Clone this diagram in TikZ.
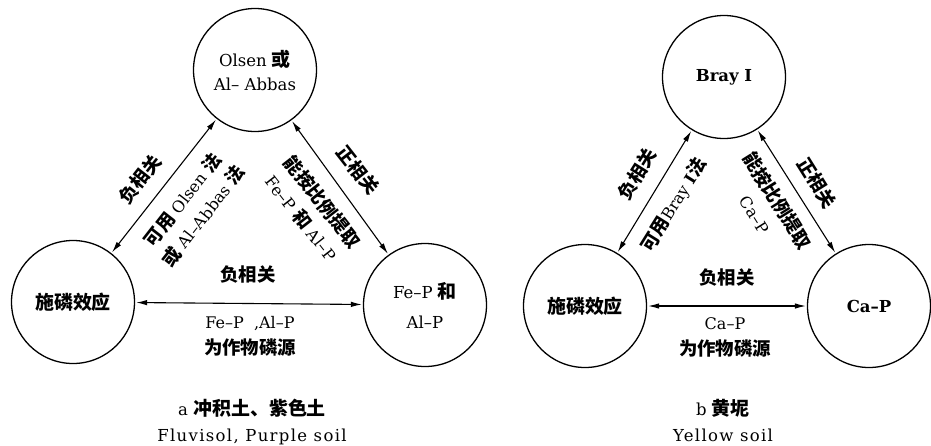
\documentclass[tikz,border=0pt]{standalone}
\usepackage{fontspec}
\setmainfont{DejaVu Serif}
\newfontfamily\cjk{Noto Sans CJK SC}[Scale=1.15]
\newfontfamily\wideserif{DejaVu Serif}[LetterSpace=8]
\usetikzlibrary{arrows.meta,shapes.geometric}
\newcommand\zh[1]{{\cjk\bfseries #1}}
\begin{document}
\begin{tikzpicture}[x=1pt,y=-1pt,
  bub/.style={draw,circle,line width=1.3pt,inner sep=0pt,minimum size=123pt,align=center,font=\fontsize{16.5}{24}\selectfont},
  link/.style={{Latex[length=11pt,width=5.5pt]}-{Latex[length=11pt,width=5.5pt]},line width=1.1pt,shorten <=1pt,shorten >=1pt},
  lab/.style={align=center,inner sep=1pt,font=\fontsize{16}{26}\selectfont},
  capt/.style={align=center,inner sep=1pt,font=\fontsize{16.5}{26}\selectfont}
]
\useasboundingbox (0,0) rectangle (931,445);
% ---------- diagram a ----------
\node[bub] (aT) at (255,70) {Olsen \zh{或}\\Al– Abbas};
\node[bub] (aL) at (73,302) {\zh{施磷效应}};
\node[bub,font=\fontsize{16.5}{30}\selectfont] (aR) at (425,305) {Fe–P \zh{和}\\Al–P};
\draw[link] (aL) -- (aT);
\draw[link] (aT) -- (aR);
\draw[link] (aL) -- (aR);
\node[lab,rotate=52] (a1) at (140,179) {\zh{负相关}};
\node[lab,rotate=52] (a2) at (193,208) {\zh{可用} Olsen \zh{法}\\\zh{或} Al–Abbas \zh{法}};
\node[lab,rotate=-52] (a3) at (358,170) {\zh{正相关}};
\node[lab,rotate=-52] (a4) at (312,210) {\zh{能按比例提取}\\Fe–P \zh{和} Al–P};
\node[lab] (a5) at (248,275) {\zh{负相关}};
\node[lab] (a6) at (250,336) {Fe–P\ \ ,Al–P\\\zh{为作物磷源}};
\node[capt] (a7) at (252,422) {a \zh{冲积土、紫色土}\\{\wideserif Fluvisol, Purple soil}};
% ---------- diagram b ----------
\node[bub] (bT) at (724,77) {\textbf{Bray I}};
\node[bub] (bL) at (585,306) {\zh{施磷效应}};
\node[bub] (bR) at (869,306) {\textbf{Ca–P}};
\draw[link] (bL) -- (bT);
\draw[link] (bT) -- (bR);
\draw[link] (bL) -- (bR);
\node[lab,rotate=58] (b1) at (637,174) {\zh{负相关}};
\node[lab,rotate=58] (b2) at (674,205) {\zh{可用}Bray \textbf{I}\zh{法}};
\node[lab,rotate=-58] (b3) at (817,183) {\zh{正相关}};
\node[lab,rotate=-58] (b4) at (767,207) {\zh{能按比例提取}\\Ca–P};
\node[lab] (b5) at (727,278) {\zh{负相关}};
\node[lab] (b6) at (725,337) {Ca–P\\\zh{为作物磷源}};
\node[capt] (b7) at (723,420) {b \zh{黄坭}\\{\wideserif Yellow soil}};
\end{tikzpicture}
\end{document}
